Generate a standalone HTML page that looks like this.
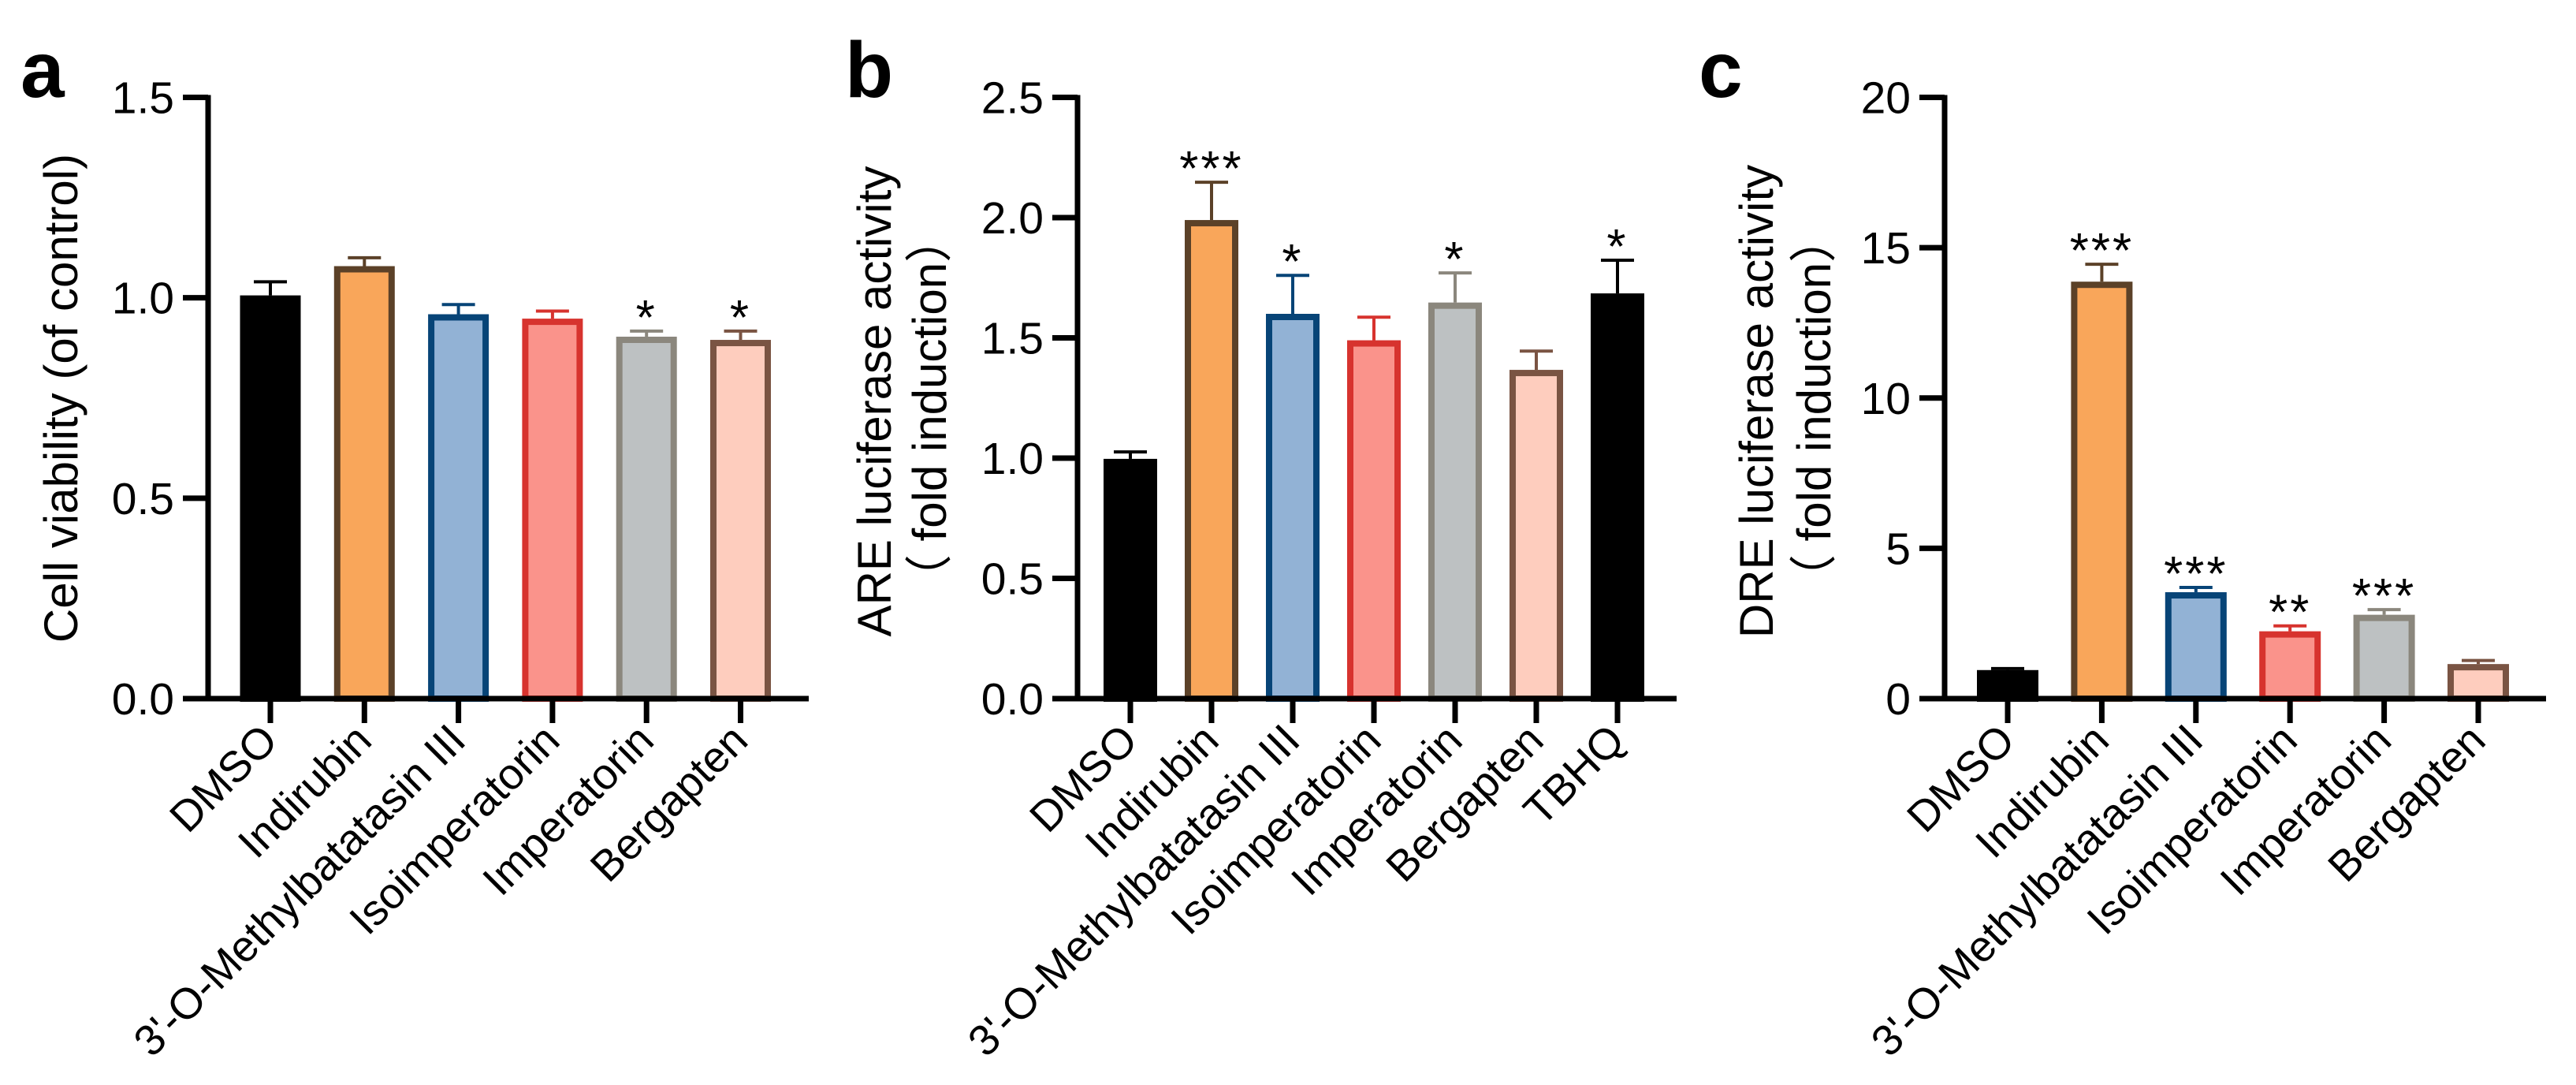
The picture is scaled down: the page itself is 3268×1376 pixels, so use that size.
<!DOCTYPE html>
<html><head><meta charset="utf-8"><style>
html,body{margin:0;padding:0;background:#fff;}
svg{display:block;font-family:"Liberation Sans","Noto Sans CJK SC",sans-serif;}
</style></head><body>
<svg id="fig" width="3268" height="1376" viewBox="0 0 3268 1376" xmlns="http://www.w3.org/2000/svg"></svg>
<script>
const catsA = ["DMSO","Indirubin","3'-O-Methylbatatasin III","Isoimperatorin","Imperatorin","Bergapten"];
const valsA = [1.006,1.079,0.959,0.948,0.903,0.895];
const errA  = [1.04,1.10,0.983,0.967,0.917,0.917];
const sigA  = ["","","","","*","*"];
const ticksA = ["0.0","0.5","1.0","1.5"];
const tickValsA = [0,0.5,1.0,1.5];

const catsB = ["DMSO","Indirubin","3'-O-Methylbatatasin III","Isoimperatorin","Imperatorin","Bergapten","TBHQ"];
const valsB = [0.997,1.99,1.60,1.49,1.647,1.367,1.685];
const errB  = [1.026,2.147,1.76,1.586,1.77,1.445,1.823];
const sigB  = ["","***","*","","*","","*"];
const ticksB = ["0.0","0.5","1.0","1.5","2.0","2.5"];
const tickValsB = [0,0.5,1.0,1.5,2.0,2.5];

const catsC = ["DMSO","Indirubin","3'-O-Methylbatatasin III","Isoimperatorin","Imperatorin","Bergapten"];
const valsC = [0.95,13.87,3.54,2.24,2.79,1.15];
const errC  = [1.0,14.45,3.70,2.42,2.96,1.27];
const sigC  = ["","***","***","**","***",""];
const ticksC = ["0","5","10","15","20"];
const tickValsC = [0,5,10,15,20];

const NS="http://www.w3.org/2000/svg";
const svg=document.getElementById('fig');
function mk(tag,attrs,parent){const e=document.createElementNS(NS,tag);for(const k in attrs)e.setAttribute(k,attrs[k]);(parent||svg).appendChild(e);return e;}

const styles6=[{f:"#000",s:"#000"},{f:"#F9A65A",s:"#5B4128"},{f:"#92B2D5",s:"#074477"},{f:"#FA938B",s:"#D7332E"},{f:"#BDC1C2",s:"#8B877D"},{f:"#FECDBE",s:"#7A5443"},{f:"#000",s:"#000"}];

function panel(cfg){
  const g=mk('g',{});
  
  
  const y0=886, yTop=123.5;
  const ys=v=>y0-(v/cfg.max)*(y0-yTop);
  const xs=i=>cfg.x0+i*cfg.step;
  cfg.vals.forEach((v,i)=>{
    const st=styles6[i];
    const cx=xs(i), w=cfg.bw;
    errorLine(g,cx,ys(v),ys(cfg.err[i]),st.s);
    const r=mk('rect',{x:cx-w/2+4,y:ys(v)+4,width:w-8,height:Math.max(0,y0-ys(v)-4),fill:st.f,stroke:st.s,'stroke-width':8},g);
    
    
    if(cfg.sig[i]){
      const t=mk('text',{x:cx,y:ys(cfg.err[i])+4,'font-size':62,'text-anchor':'middle',fill:'#000','letter-spacing':'3'},g);
      t.textContent=cfg.sig[i];
      
      
    }
    mk('line',{x1:cx,y1:y0,x2:cx,y2:917,stroke:'#000','stroke-width':7},g);
    const lb=mk('text',{x:0,y:0,'font-size':55,'text-anchor':'end',transform:`translate(${cx+12},${942}) rotate(-45)`},g);
    lb.textContent=cfg.cats[i];
    
    
  });
  const ax=mk('line',{x1:cfg.ax,y1:yTop-3,x2:cfg.ax,y2:y0+3,stroke:'#000','stroke-width':7},g);
  
  
  const bx=mk('line',{x1:cfg.ax-32,y1:y0,x2:cfg.xend,y2:y0,stroke:'#000','stroke-width':7},g);
  
  
  cfg.tickVals.forEach((tv,j)=>{
    mk('line',{x1:cfg.ax-32,y1:ys(tv),x2:cfg.ax,y2:ys(tv),stroke:'#000','stroke-width':7},g);
    const t=mk('text',{x:cfg.ax-43,y:ys(tv)+20,'font-size':57,'text-anchor':'end'},g);
    t.textContent=cfg.ticks[j];
    
    
  });
  cfg.titles.forEach(tt=>{
    const t=mk('text',{x:0,y:0,'font-size':60,'text-anchor':'middle',transform:`translate(${tt.x},${tt.y}) rotate(-90)`},g);
    t.textContent=tt.t;
    
    
  });
  const L=mk('text',{x:cfg.lx,y:123,'font-size':100,'font-weight':'bold'},g);
  L.textContent=cfg.letter;
  
  
}
function errorLine(g,cx,yv,ye,c){
  mk('line',{x1:cx,y1:yv,x2:cx,y2:ye,stroke:c,'stroke-width':4},g);
  mk('line',{x1:cx-21,y1:ye,x2:cx+21,y2:ye,stroke:c,'stroke-width':4},g);
}

panel({name:'panel-a-cell-viability',cats:catsA,vals:valsA,err:errA,sig:sigA,ticks:ticksA,tickVals:tickValsA,max:1.5,
  x0:343,step:119.3,bw:77,ax:264,xend:1026,letter:'a',lx:26,
  titles:[{t:'Cell viability (of control)',x:98,y:505}]});
panel({name:'panel-b-are-luciferase',cats:catsB,vals:valsB,err:errB,sig:sigB,ticks:ticksB,tickVals:tickValsB,max:2.5,
  x0:1434,step:103,bw:68,ax:1367,xend:2127,letter:'b',lx:1072,
  titles:[{t:'ARE luciferase activity',x:1130,y:509},{t:'（ fold induction）',x:1200,y:518}]});
panel({name:'panel-c-dre-luciferase',cats:catsC,vals:valsC,err:errC,sig:sigC,ticks:ticksC,tickVals:tickValsC,max:20,
  x0:2547,step:119.4,bw:78,ax:2467,xend:3230,letter:'c',lx:2155,
  titles:[{t:'DRE luciferase activity',x:2249,y:509},{t:'（ fold induction）',x:2322,y:518}]});
</script>
</body></html>
